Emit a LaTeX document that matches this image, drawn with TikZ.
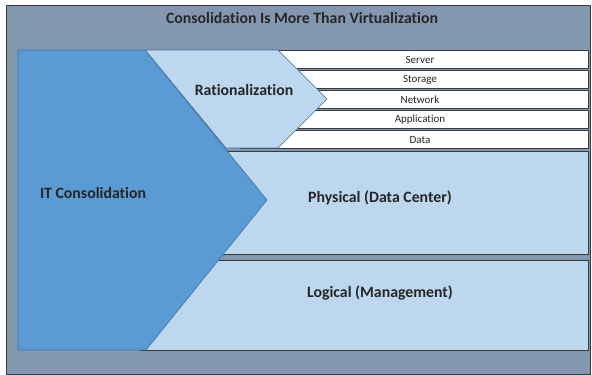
\documentclass[tikz,border=0pt]{standalone}
\usepackage{fontspec}
\setmainfont{Carlito}[Ligatures=NoCommon]
\definecolor{slate}{HTML}{8497B0}
\definecolor{lblue}{HTML}{BDD7EE}
\definecolor{mblue}{HTML}{5B9BD5}
\definecolor{mbord}{HTML}{41719C}
\definecolor{txt}{HTML}{262626}
\definecolor{bord}{HTML}{3A3A3A}
\tikzset{
  rowbox/.style={draw=bord, fill=white, line width=0.8pt},
  bigbox/.style={draw=bord, fill=lblue, line width=0.8pt},
  rowtxt/.style={font=\fontsize{11}{13}\selectfont, text=txt},
  bigtxt/.style={font=\fontsize{15.8}{18}\selectfont\bfseries, text=txt}
}
\begin{document}
\begin{tikzpicture}[x=1pt,y=-1pt]
\useasboundingbox (0,0) rectangle (592,375);
\fill[white] (0,0) rectangle (592,375);
\draw[draw=bord, fill=slate, line width=0.8pt] (6,5) rectangle (590,374);
\node[bigtxt] (title) at (302,18) {Consolidation Is More Than Virtualization};
% rows
\draw[rowbox] (240,50) rectangle (588,68);
\draw[rowbox] (240,70) rectangle (588,88);
\draw[rowbox] (240,90) rectangle (588,108);
\draw[rowbox] (240,110) rectangle (588,128);
\draw[rowbox] (240,130) rectangle (588,148);
\node[rowtxt] (server) at (420,60) {Server};
\node[rowtxt] (storage) at (420,80) {Storage};
\node[rowtxt] (network) at (420,100) {Network};
\node[rowtxt] (application) at (420,120) {Application};
\node[rowtxt] (data) at (420,140) {Data};
% big boxes
\draw[bigbox] (180,151) rectangle (588,254);
\draw[bigbox] (140,260) rectangle (588,350);
% chevron
\draw[fill=lblue, draw=mbord, line width=0.6pt] (145,50) -- (278,50) -- (327,99) -- (278,148) -- (226,148) -- cycle;
% IT shape
\draw[fill=mblue, draw=mbord, line width=0.6pt] (18,50) -- (145,50) -- (267,200) -- (146,350) -- (18,350) -- cycle;
\draw[draw=bord, line width=0.8pt] (146,350) -- (180,350);
\node[bigtxt] (rat) at (244,90) {Rationalization};
\node[bigtxt] (itc) at (93,193) {IT Consolidation};
\node[bigtxt] (phys) at (380,198) {Physical (Data Center)};
\node[bigtxt] (logi) at (380,293) {Logical (Management)};
\end{tikzpicture}
\end{document}
